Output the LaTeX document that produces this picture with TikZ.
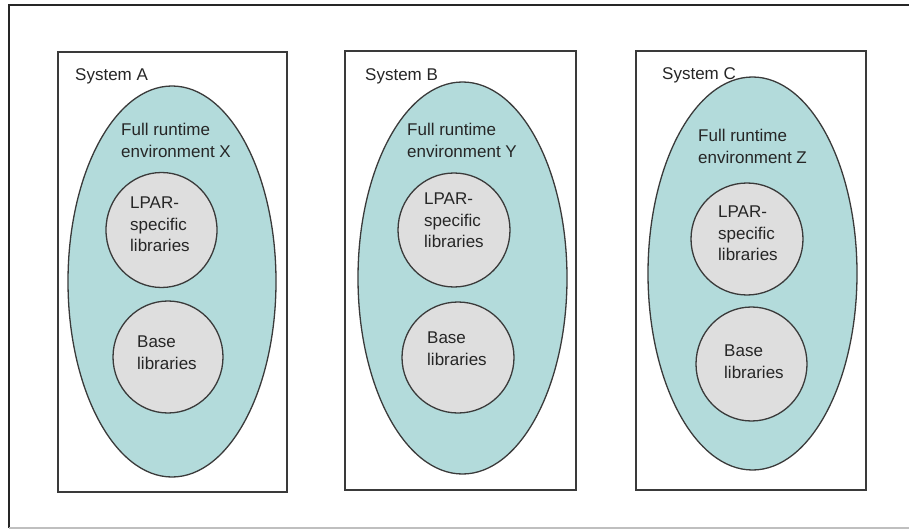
\documentclass[tikz,border=0pt]{standalone}
\usepackage{fontspec}
\setmainfont{Liberation Sans}
\usetikzlibrary{shapes.geometric}
\definecolor{envfill}{HTML}{B3DBDB}
\definecolor{libfill}{HTML}{DEDEDE}
\definecolor{edgec}{HTML}{3A3A3A}
\tikzset{
  sysbox/.style={draw=edgec, line width=1.6pt, fill=white},
  envell/.style={ellipse, draw=edgec, line width=1.3pt, fill=envfill, inner sep=0pt},
  libell/.style={ellipse, draw=edgec, line width=1.3pt, fill=libfill, inner sep=0pt},
  lbl/.style={anchor=north west, inner sep=0pt, align=left, font=\fontsize{17}{21.5}\selectfont, text=black!85}
}
\begin{document}
\begin{tikzpicture}[x=1pt,y=-1pt]
\useasboundingbox (0,0) rectangle (909,529);
% outer frame
\coordinate (ftl) at (9,5);
\coordinate (ftr) at (909,5);
\coordinate (fbl) at (9,528);
\coordinate (fbr) at (909,528);
\draw[black!85, line width=1.6pt] (ftr) -- (ftl) -- (fbl);
\draw[black!25, line width=1.2pt] (fbl) -- (fbr);
% System boxes
\draw[sysbox] (58,52) rectangle (287,492);
\draw[sysbox] (345,51) rectangle (576,490);
\draw[sysbox] (636,51) rectangle (866,490);
% runtime environments
\node[envell, minimum width=208pt, minimum height=391pt] (envA) at (172,281.5) {};
\node[envell, minimum width=209pt, minimum height=392pt] (envB) at (462.5,278) {};
\node[envell, minimum width=209pt, minimum height=393pt] (envC) at (752.5,273.5) {};
% libraries
\node[libell, minimum width=111pt, minimum height=115pt] (lparA) at (161.5,230) {};
\node[libell, minimum width=110pt, minimum height=112pt] (baseA) at (168,357) {};
\node[libell, minimum width=112pt, minimum height=114pt] (lparB) at (454,230) {};
\node[libell, minimum width=112pt, minimum height=111pt] (baseB) at (458,357.5) {};
\node[libell, minimum width=112pt, minimum height=112pt] (lparC) at (747,239) {};
\node[libell, minimum width=111pt, minimum height=114pt] (baseC) at (751.5,364) {};
% texts
\node[lbl] (tsA) at (75,68) {System A};
\node[lbl] (tsB) at (365,68) {System B};
\node[lbl] (tsC) at (662,67) {System C};
\node[lbl] (teA) at (121,123) {Full runtime\\environment X};
\node[lbl] (teB) at (407,123) {Full runtime\\environment Y};
\node[lbl] (teC) at (698,129) {Full runtime\\environment Z};
\node[lbl] (tlA) at (130,197) {LPAR-\\specific\\libraries};
\node[lbl] (tlB) at (424,193) {LPAR-\\specific\\libraries};
\node[lbl] (tlC) at (718,206) {LPAR-\\specific\\libraries};
\node[lbl] (tbA) at (137,336) {Base\\libraries};
\node[lbl] (tbB) at (427,332) {Base\\libraries};
\node[lbl] (tbC) at (724,345) {Base\\libraries};
\end{tikzpicture}
\end{document}
